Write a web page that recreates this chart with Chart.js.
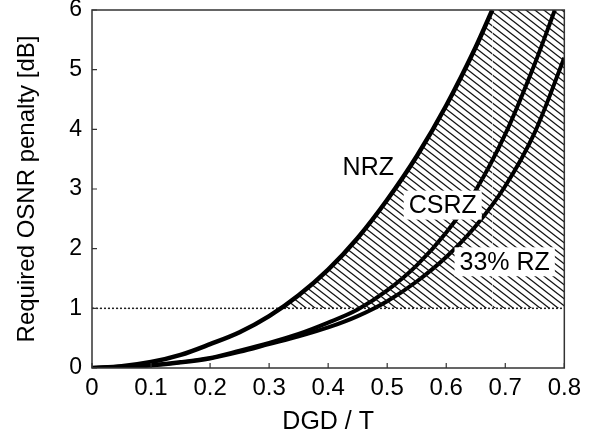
<!DOCTYPE html>
<html><head><meta charset="utf-8">
<script src="https://cdn.jsdelivr.net/npm/chart.js@4.4.0/dist/chart.umd.min.js"></script>
<style>html,body{margin:0;padding:0;background:#fff}#wrap{width:589px;height:439px}</style>
</head><body><div id="wrap"><canvas id="c" width="589" height="439"></canvas></div>
<script>
// ---- data ----
const X_TICKS = [0, 0.1, 0.2, 0.3, 0.4, 0.5, 0.6, 0.7, 0.8];
const X_LABELS = ['0', '0.1', '0.2', '0.3', '0.4', '0.5', '0.6', '0.7', '0.8'];
const Y_TICKS = [0, 1, 2, 3, 4, 5, 6];
const Y_LABELS = ['0', '1', '2', '3', '4', '5', '6'];
const SERIES_NAMES = ['NRZ', 'CSRZ', '33% RZ'];

const NRZ_X = [0, 0.05, 0.1, 0.15, 0.2, 0.25, 0.3, 0.35, 0.4, 0.45, 0.5, 0.55, 0.6, 0.65, 0.678];
const NRZ_Y = [0, 0.03, 0.1, 0.22, 0.4, 0.6, 0.87, 1.22, 1.65, 2.18, 2.82, 3.55, 4.4, 5.38, 6.0];

const CSRZ_X = [0, 0.05, 0.1, 0.15, 0.2, 0.25, 0.3, 0.35, 0.4, 0.45, 0.5, 0.55, 0.6, 0.65, 0.7, 0.75, 0.784];
const CSRZ_Y = [0, 0.02, 0.05, 0.1, 0.17, 0.29, 0.42, 0.57, 0.76, 0.98, 1.3, 1.72, 2.27, 2.98, 3.92, 5.1, 6.0];

const RZ33_X = [0, 0.05, 0.1, 0.15, 0.2, 0.25, 0.3, 0.35, 0.4, 0.45, 0.5, 0.55, 0.6, 0.65, 0.7, 0.75, 0.8];
const RZ33_Y = [0, 0.01, 0.04, 0.09, 0.16, 0.27, 0.4, 0.53, 0.68, 0.87, 1.12, 1.45, 1.86, 2.38, 3.05, 3.95, 5.2];

const THRESHOLD_DB = 1;
const X_MIN = 0, X_MAX = 0.8, Y_MIN = 0, Y_MAX = 6;

// ---- helpers ----
const pts = (xs, ys) => xs.map((x, i) => ({x: x, y: ys[i]}));
const FONT = "'Liberation Sans', Arial, sans-serif";

function makeHatch() {
  const w = 9, h = 7;
  const c = document.createElement('canvas');
  c.width = w; c.height = h;
  const g = c.getContext('2d');
  g.strokeStyle = '#111';
  g.lineWidth = 1.3;
  for (const k of [-1, 0, 1]) {
    g.beginPath();
    g.moveTo(-1, (h / w) * (-1) + k * h);
    g.lineTo(w + 1, (h / w) * (w + 1) + k * h);
    g.stroke();
  }
  return g.createPattern(c, 'repeat');
}
const hatch = makeHatch();

const LABEL_POS = [
  {x: 0.468, y: 3.36, box: false},
  {x: 0.594, y: 2.73, box: true},
  {x: 0.699, y: 1.78, box: true}
];

const decor = {
  id: 'decor',
  afterDatasetsDraw(chart) {
    const ctx = chart.ctx, xs = chart.scales.x, ys = chart.scales.y, a = chart.chartArea;
    ctx.save();
    ctx.font = '25px ' + FONT;
    ctx.textAlign = 'center';
    ctx.textBaseline = 'middle';
    LABEL_POS.forEach((p, i) => {
      const t = SERIES_NAMES[i];
      const px = xs.getPixelForValue(p.x), py = ys.getPixelForValue(p.y);
      if (p.box) {
        const w = ctx.measureText(t).width + 10, h = 29;
        ctx.fillStyle = '#fff';
        ctx.fillRect(px - w / 2, py - h / 2, w, h);
      }
      ctx.fillStyle = '#000';
      ctx.fillText(t, px, py + 1);
    });
    ctx.strokeStyle = '#333';
    ctx.lineWidth = 1.5;
    ctx.strokeRect(a.left, a.top, a.right - a.left, a.bottom - a.top);
    ctx.beginPath();
    X_TICKS.forEach(v => {
      const px = xs.getPixelForValue(v);
      ctx.moveTo(px, a.bottom); ctx.lineTo(px, a.bottom - 5);
    });
    Y_TICKS.forEach(v => {
      const py = ys.getPixelForValue(v);
      ctx.moveTo(a.left, py); ctx.lineTo(a.left + 5, py);
    });
    ctx.lineWidth = 1.2;
    ctx.stroke();
    ctx.restore();
  }
};

const lineBase = {
  showLine: true, pointRadius: 0, borderColor: '#000', borderWidth: 4.5,
  cubicInterpolationMode: 'monotone', fill: false
};

new Chart(document.getElementById('c'), {
  type: 'scatter',
  data: {
    datasets: [
      Object.assign({}, lineBase, {
        label: SERIES_NAMES[0], data: pts(NRZ_X, NRZ_Y),
        fill: {target: {value: THRESHOLD_DB}, above: hatch, below: 'rgba(0,0,0,0)'}
      }),
      Object.assign({}, lineBase, {
        label: SERIES_NAMES[1], data: pts(CSRZ_X, CSRZ_Y), borderWidth: 4
      }),
      Object.assign({}, lineBase, {
        label: SERIES_NAMES[2], data: pts(RZ33_X, RZ33_Y), borderWidth: 4
      }),
      {
        label: 'threshold', showLine: true, pointRadius: 0, borderColor: '#222', borderWidth: 1.5,
        borderDash: [2, 2], fill: false,
        data: [{x: X_MIN, y: THRESHOLD_DB}, {x: X_MAX, y: THRESHOLD_DB}]
      },
      {
        label: 'region', showLine: true, pointRadius: 0, borderWidth: 0, borderColor: 'rgba(0,0,0,0)',
        fill: {target: {value: THRESHOLD_DB}, above: hatch, below: 'rgba(0,0,0,0)'},
        data: [{x: NRZ_X[NRZ_X.length - 1], y: Y_MAX}, {x: X_MAX, y: Y_MAX}]
      }
    ]
  },
  options: {
    responsive: false, animation: false, devicePixelRatio: 1,
    layout: {padding: {top: 10, right: 22, left: 0, bottom: 0}},
    plugins: {legend: {display: false}, tooltip: {enabled: false}},
    scales: {
      x: {
        type: 'linear', min: X_MIN, max: X_MAX,
        afterBuildTicks: s => { s.ticks = X_TICKS.map(v => ({value: v})); },
        afterFit: s => { s.height = 71; },
        grid: {display: false, drawTicks: false},
        border: {display: false},
        ticks: {
          padding: 8, color: '#000', maxRotation: 0, autoSkip: false,
          font: {family: FONT, size: 24, lineHeight: 1.0},
          callback: (v, i) => X_LABELS[i]
        },
        title: {display: true, text: 'DGD / T', color: '#000',
          font: {family: FONT, size: 25, lineHeight: 1.2}, padding: {top: 0, bottom: 2}}
      },
      y: {
        type: 'linear', min: Y_MIN, max: Y_MAX,
        afterBuildTicks: s => { s.ticks = Y_TICKS.map(v => ({value: v})); },
        afterFit: s => { s.width = 92; s.paddingTop = 0; s.paddingBottom = 0; },
        grid: {display: false, drawTicks: false},
        border: {display: false},
        ticks: {
          padding: 10, color: '#000', autoSkip: false,
          font: {family: FONT, size: 23, lineHeight: 1.0},
          callback: (v, i) => Y_LABELS[i]
        },
        title: {display: true, text: 'Required OSNR penalty [dB]', color: '#000',
          font: {family: FONT, size: 24, lineHeight: 1.2}, padding: {top: 13, bottom: 0}}
      }
    }
  },
  plugins: [decor]
});
</script>
</body></html>
